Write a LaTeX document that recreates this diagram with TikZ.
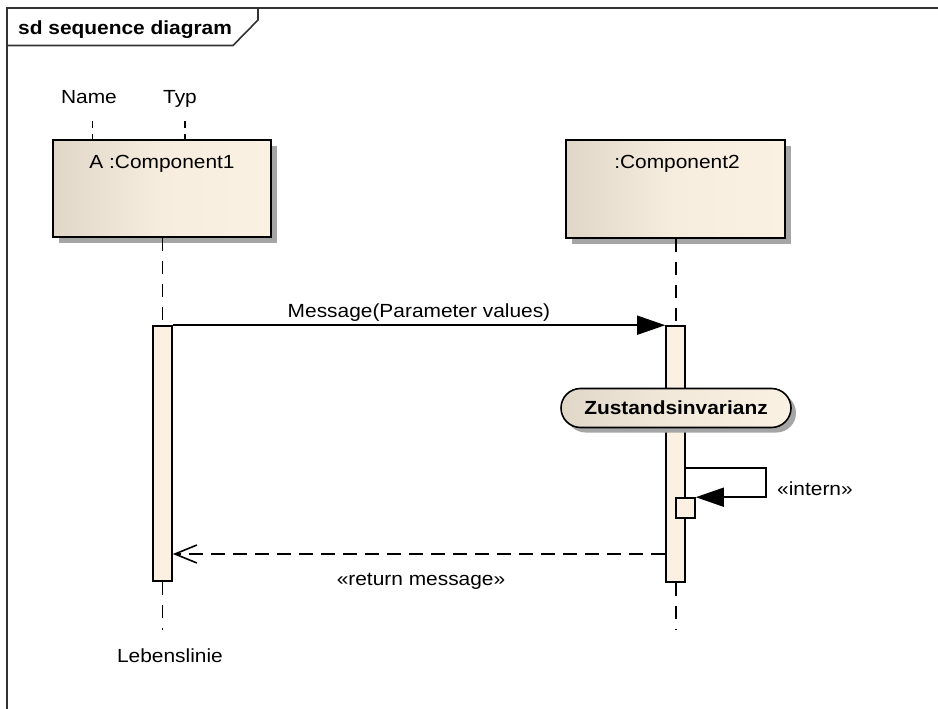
\documentclass[tikz,border=0pt]{standalone}
\usepackage{fontspec}
\setmainfont{Liberation Sans}[FakeStretch=1.1]
\usetikzlibrary{arrows.meta,shadows,shapes.misc}

\definecolor{boxL}{RGB}{224,215,201}
\definecolor{boxR}{RGB}{251,241,227}
\definecolor{actFill}{RGB}{251,240,226}
\definecolor{shadowGray}{RGB}{165,165,165}
\definecolor{frameGray}{RGB}{50,50,50}

\begin{document}
\begin{tikzpicture}[x=1pt,y=-1pt,
  every node/.style={font=\fontsize{19}{23}\selectfont, inner sep=0pt},
  boldtxt/.style={font=\fontsize{19}{23}\selectfont\bfseries},
  frameline/.style={draw=frameGray, line width=1.6pt},
  lifebox/.style={draw=black, line width=1.7pt,
    left color=boxL, right color=boxR, middle color=boxR!85!boxL,
    drop shadow={shadow xshift=6pt, shadow yshift=-6pt, fill=shadowGray, opacity=1}},
  act/.style={draw=black, line width=1.6pt, fill=actFill, minimum width=19pt},
  invariant/.style={rounded rectangle, draw=black, line width=1.6pt,
    minimum width=230pt, minimum height=39pt,
    left color=boxL, right color=boxR, middle color=boxR!70!boxL,
    drop shadow={shadow xshift=5pt, shadow yshift=-5pt, fill=shadowGray, opacity=1}},
  lifeline/.style={line width=1.6pt, dash pattern=on 13pt off 10pt},
  tick/.style={line width=1.6pt, dash pattern=on 7pt off 6pt},
  msg/.style={line width=1.6pt, -{Triangle[length=28pt,width=19pt]}},
  ret/.style={line width=1.6pt, dash pattern=on 14pt off 8pt,
    -{Straight Barb[length=22pt,width=18pt,line width=1.6pt]}}
]
\useasboundingbox (0,0) rectangle (938,709);

% diagram frame with its title tab
\draw[frameline] (938,8) -- (7,8) -- (7,709);
\draw[frameline] (7,45.5) -- (233,45.5) -- (258,20) -- (258,8);
\node[boldtxt, anchor=base west] (title) at (18,35) {sd sequence diagram};

% lifeline heads
\node[lifebox, minimum width=218pt, minimum height=97pt] (c1) at (162,188.5) {};
\node[anchor=base] (c1txt) at (162,168) {A :Component1};
\node[lifebox, minimum width=219pt, minimum height=98pt] (c2) at (675.5,189) {};
\node[anchor=base] (c2txt) at (677,168) {:Component2};

% name / type annotations
\node[anchor=base] (nm) at (89,103.5) {Name};
\node[anchor=base] (ty) at (180,103.5) {Typ};
\coordinate (nmTick) at (92.5,121);
\coordinate (tyTick) at (185,121);
\draw[tick] (nmTick) -- (nmTick |- c1.north);
\draw[tick] (tyTick) -- (tyTick |- c1.north);

% activation bars
\node[act, minimum height=255pt] (actA) at (162.5,453.5) {};
\node[act, minimum height=256pt] (actB) at (675.5,454) {};

% dashed lifelines
\coordinate (endA) at (162.5,630);
\coordinate (endB) at (676,630);
\draw[lifeline] (c1.south -| actA.north) -- (actA.north);
\draw[lifeline] (actA.south) -- (endA);
\draw[lifeline] (c2.south -| endB) -- (endB |- actB.north);
\draw[lifeline] (endB |- actB.south) -- (endB);

% synchronous call
\draw[msg] (actA.north east) -- node[anchor=base, yshift=8pt] (msgtxt) {Message(Parameter values)} (actB.north west);

% state invariant on the second lifeline
\node[invariant, boldtxt] (inv) at (676,408) {Zustandsinvarianz};

% self call
\node[act, minimum width=19pt, minimum height=20pt] (sb) at (685.5,508) {};
\coordinate (loopTop) at (766,468);
\draw[msg] (actB.east |- loopTop) -- (loopTop) -- (loopTop |- sb.north east) -- (sb.north east);
\node[anchor=base west] (intern) at (777,495) {«intern»};

% return message
\coordinate (retLevel) at (420,554);
\draw[ret] (actB.west |- retLevel) -- (actA.east |- retLevel);
\node[anchor=base] (rettxt) at (421,585) {«return message»};

% lifeline annotation
\node[anchor=base] (leb) at (170,662) {Lebenslinie};
\end{tikzpicture}
\end{document}
